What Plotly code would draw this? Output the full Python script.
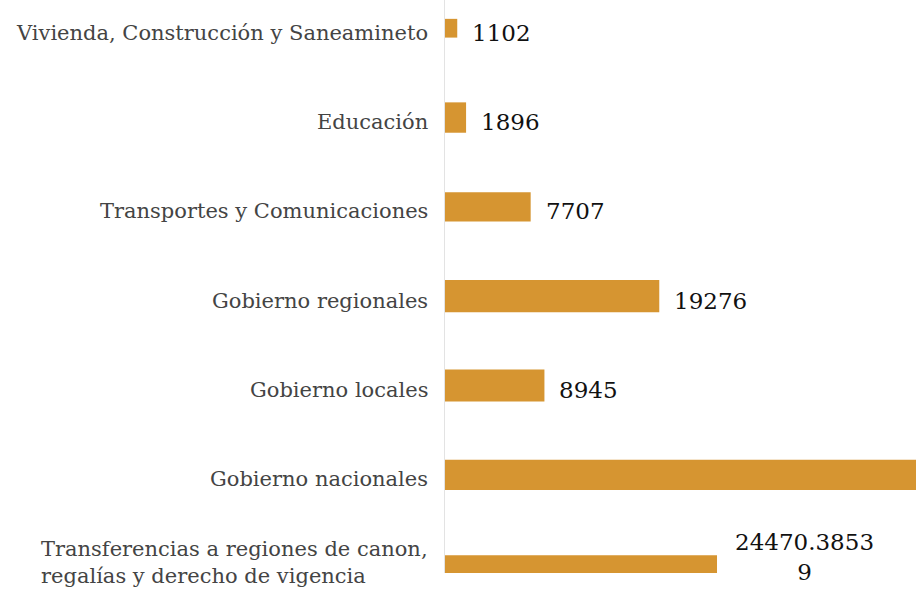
import plotly.graph_objects as go

categories = [
    "Vivienda, Construcción y Saneamineto",
    "Educación",
    "Transportes y Comunicaciones",
    "Gobierno regionales",
    "Gobierno locales",
    "Gobierno nacionales",
    "Transferencias a regiones de canon,<br>regalías y derecho de vigencia",
]
values = [1102, 1896, 7707, 19276, 8945, 52000, 24470.38539]
value_labels = ["1102", "1896", "7707", "19276", "8945", "52000", "24470.3853<br>9"]

# style only
bar_widths = [0.21, 0.34, 0.33, 0.36, 0.36, 0.34, 0.2]
BAR_SHIFT = -0.05
XMAX = 42372

ypos = list(range(len(categories)))
fig = go.Figure(go.Bar(
    x=values,
    y=ypos,
    orientation="h",
    width=bar_widths,
    offset=[-w / 2 + BAR_SHIFT for w in bar_widths],
    marker=dict(color="#D69531", line=dict(width=0)),
    hoverinfo="skip",
))

for i, (v, lab) in enumerate(zip(values, value_labels)):
    if v > XMAX:
        continue
    multi = "<br>" in lab
    fig.add_annotation(
        x=v, y=i, text=lab, showarrow=False,
        xanchor="left", yanchor="middle", align="center",
        xshift=16 if multi else 13, yshift=12 if multi else 0,
        font=dict(family="DejaVu Serif", size=23, color="#111"),
    )

for i, c in enumerate(categories):
    multi = "<br>" in c
    fig.add_annotation(
        x=0, xref="paper", y=i, yref="y", text=c, showarrow=False,
        xanchor="right", yanchor="middle", align="left", xshift=-15,
        yshift=6 if multi else 0,
        font=dict(family="DejaVu Serif", size=21, color="#444"),
    )

fig.update_layout(
    width=916, height=590,
    margin=dict(l=445, r=0, t=0, b=17),
    plot_bgcolor="white", paper_bgcolor="white",
    showlegend=False,
    hovermode=False,
    xaxis=dict(range=[0, XMAX], showgrid=False, zeroline=False,
               showticklabels=False, showline=False, fixedrange=True),
    yaxis=dict(range=[6.049, -0.366], showticklabels=False,
               showgrid=False, zeroline=False, showline=True,
               linecolor="#e3e3e3", linewidth=1, ticks="", fixedrange=True),
)

fig.write_html(
    "out.html",
    config={"displayModeBar": False, "staticPlot": True},
    post_script="document.body.style.margin='0px';"
                "document.body.style.overflow='hidden';",
)
